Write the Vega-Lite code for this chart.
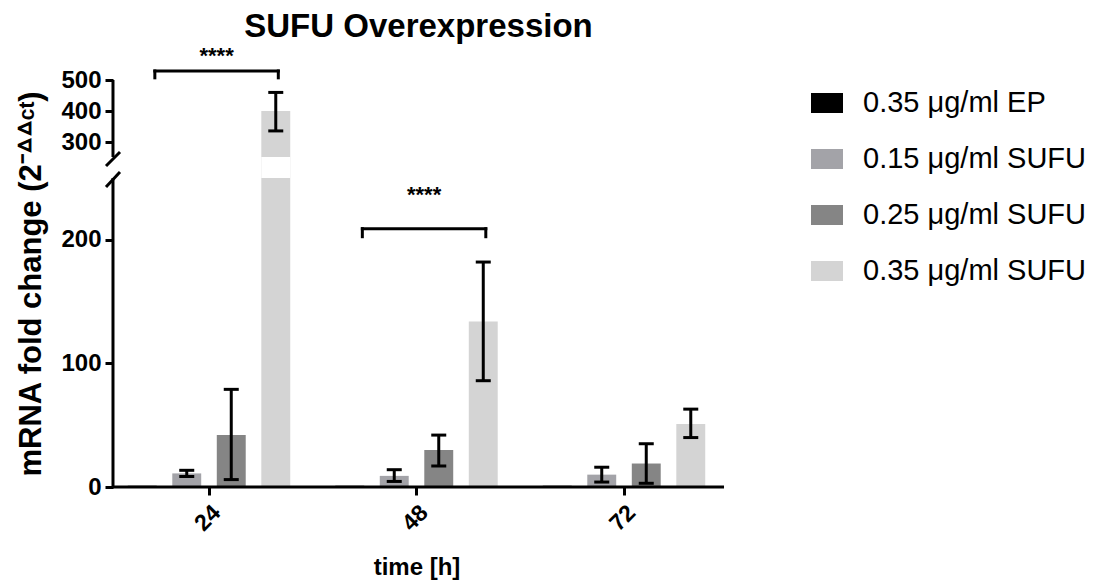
{
  "$schema": "https://vega.github.io/schema/vega-lite/v6.json",
  "width": 611,
  "height": 447,
  "autosize": {"type": "none"},
  "padding": {"left": 113, "top": 40, "right": 372, "bottom": 96},
  "title": {"text": "SUFU Overexpression", "fontSize": 33, "fontWeight": "bold", "color": "black", "anchor": "middle", "frame": "group", "offset": -4},
  "config": {"font": "Liberation Sans", "view": {"stroke": null}},
  "datasets": {
    "bars": [
      {"time": "24", "group": "0.35 μg/ml EP", "value": 1, "lo": null, "hi": null},
      {"time": "24", "group": "0.15 μg/ml SUFU", "value": 11, "lo": 8.5, "hi": 13.5},
      {"time": "24", "group": "0.25 μg/ml SUFU", "value": 42, "lo": 6, "hi": 79},
      {"time": "24", "group": "0.35 μg/ml SUFU", "value": 400, "lo": 336, "hi": 460},
      {"time": "48", "group": "0.35 μg/ml EP", "value": 1, "lo": null, "hi": null},
      {"time": "48", "group": "0.15 μg/ml SUFU", "value": 9, "lo": 4.5, "hi": 14},
      {"time": "48", "group": "0.25 μg/ml SUFU", "value": 30, "lo": 17, "hi": 42},
      {"time": "48", "group": "0.35 μg/ml SUFU", "value": 134, "lo": 86, "hi": 182},
      {"time": "72", "group": "0.35 μg/ml EP", "value": 1, "lo": null, "hi": null},
      {"time": "72", "group": "0.15 μg/ml SUFU", "value": 10, "lo": 4, "hi": 16},
      {"time": "72", "group": "0.25 μg/ml SUFU", "value": 19, "lo": 3, "hi": 35},
      {"time": "72", "group": "0.35 μg/ml SUFU", "value": 51, "lo": 40, "hi": 63}
    ],
    "brackets": [
      {"time": "24", "y": 529, "yEnd": 507, "ys": 577, "label": "****"},
      {"time": "48", "y": 209, "yEnd": 202.5, "ys": 236, "label": "****"}
    ],
    "axisSegments": [{"lo": 0, "hi": 250}, {"lo": 252, "hi": 500}],
    "breaks": [{"a": 242.7, "b": 250.57}, {"a": 251.14, "b": 268}]
  },
  "layer": [
    {
      "data": {"name": "bars"},
      "mark": {"type": "bar"},
      "encoding": {
        "x": {"field": "time", "type": "nominal",
          "scale": {"domain": ["24", "48", "72"], "range": [-7.75, 614.75], "paddingInner": 0, "paddingOuter": 0},
          "axis": {"title": "time [h]", "labelAngle": -45, "labelFontSize": 23, "labelFontWeight": "bold", "labelColor": "black", "labelPadding": 6,
            "titleFontSize": 24, "titleFontWeight": "bold", "titleColor": "black", "titlePadding": 20,
            "tickSize": 8, "tickWidth": 3, "tickColor": "black", "domain": false, "grid": false}},
        "xOffset": {"field": "group", "type": "nominal",
          "scale": {"domain": ["0.35 μg/ml EP", "0.15 μg/ml SUFU", "0.25 μg/ml SUFU", "0.35 μg/ml SUFU"], "paddingInner": 0.35, "paddingOuter": 0.506}},
        "y": {"field": "value", "type": "quantitative",
          "scale": {"domain": [0, 250, 252, 500], "range": [447, 138, 117, 40], "nice": false, "zero": false},
          "axis": {"title": "mRNA fold change (2⁻ᐞᐞᶜᵗ)", "values": [0, 100, 200, 300, 400, 500], "domain": false, "grid": false,
            "tickSize": 8, "tickWidth": 3, "tickColor": "black", "labelFontSize": 24, "labelFontWeight": "bold", "labelColor": "black",
            "labelPadding": 4, "labelOverlap": false, "titleFontSize": 31, "titleFontWeight": "bold", "titleColor": "black", "titlePadding": 13}},
        "color": {"field": "group", "type": "nominal",
          "scale": {"domain": ["0.35 μg/ml EP", "0.15 μg/ml SUFU", "0.25 μg/ml SUFU", "0.35 μg/ml SUFU"], "range": ["#000000", "#a3a3a8", "#858585", "#d4d4d4"]},
          "legend": {"title": null, "orient": "none", "legendX": 698, "legendY": 47, "labelFontSize": 29, "labelColor": "black", "labelLimit": 400,
            "symbolType": "M-1,-0.625L1,-0.625L1,0.625L-1,0.625Z", "symbolSize": 1024, "symbolStrokeWidth": 0, "symbolOpacity": 1,
            "rowPadding": 25, "labelOffset": 20, "padding": 0}}
      }
    },
    {
      "data": {"name": "bars"},
      "transform": [{"filter": "datum.value > 252"}],
      "mark": {"type": "bar", "color": "white"},
      "encoding": {
        "x": {"field": "time", "type": "nominal"},
        "xOffset": {"field": "group", "type": "nominal"},
        "y": {"datum": 250, "type": "quantitative"},
        "y2": {"datum": 252}
      }
    },
    {
      "data": {"name": "bars"},
      "transform": [{"filter": "datum.hi != null"}],
      "mark": {"type": "rule", "color": "black", "strokeWidth": 3},
      "encoding": {
        "x": {"field": "time", "type": "nominal"},
        "xOffset": {"field": "group", "type": "nominal"},
        "y": {"field": "lo", "type": "quantitative"},
        "y2": {"field": "hi"}
      }
    },
    {
      "data": {"name": "bars"},
      "transform": [{"filter": "datum.hi != null"}],
      "mark": {"type": "tick", "color": "black", "size": 15, "thickness": 3, "opacity": 1},
      "encoding": {
        "x": {"field": "time", "type": "nominal"},
        "xOffset": {"field": "group", "type": "nominal"},
        "y": {"field": "hi", "type": "quantitative"}
      }
    },
    {
      "data": {"name": "bars"},
      "transform": [{"filter": "datum.hi != null"}],
      "mark": {"type": "tick", "color": "black", "size": 15, "thickness": 3, "opacity": 1},
      "encoding": {
        "x": {"field": "time", "type": "nominal"},
        "xOffset": {"field": "group", "type": "nominal"},
        "y": {"field": "lo", "type": "quantitative"}
      }
    },
    {
      "data": {"name": "axisSegments"},
      "mark": {"type": "rule", "color": "black", "strokeWidth": 3},
      "encoding": {
        "x": {"datum": "24", "type": "nominal", "bandPosition": 0.0373},
        "y": {"field": "lo", "type": "quantitative"},
        "y2": {"field": "hi"}
      }
    },
    {
      "data": {"name": "axisSegments"},
      "transform": [{"filter": "datum.lo == 0"}],
      "mark": {"type": "rule", "color": "black", "strokeWidth": 3},
      "encoding": {
        "x": {"datum": "24", "type": "nominal", "bandPosition": 0.0373},
        "x2": {"datum": "72", "bandPosition": 0.982},
        "y": {"field": "lo", "type": "quantitative"}
      }
    },
    {
      "data": {"name": "breaks"},
      "mark": {"type": "rule", "color": "black", "strokeWidth": 3},
      "encoding": {
        "x": {"datum": "24", "type": "nominal", "bandPosition": 0.0036},
        "x2": {"datum": "24", "bandPosition": 0.071},
        "y": {"field": "a", "type": "quantitative"},
        "y2": {"field": "b"}
      }
    },
    {
      "data": {"name": "brackets"},
      "mark": {"type": "rule", "color": "black", "strokeWidth": 3, "strokeCap": "square"},
      "encoding": {
        "x": {"field": "time", "type": "nominal", "bandPosition": 0.239},
        "x2": {"field": "time", "bandPosition": 0.834},
        "y": {"field": "y", "type": "quantitative"}
      }
    },
    {
      "data": {"name": "brackets"},
      "mark": {"type": "rule", "color": "black", "strokeWidth": 3, "strokeCap": "square"},
      "encoding": {
        "x": {"field": "time", "type": "nominal", "bandPosition": 0.239},
        "y": {"field": "y", "type": "quantitative"},
        "y2": {"field": "yEnd"}
      }
    },
    {
      "data": {"name": "brackets"},
      "mark": {"type": "rule", "color": "black", "strokeWidth": 3, "strokeCap": "square"},
      "encoding": {
        "x": {"field": "time", "type": "nominal", "bandPosition": 0.834},
        "y": {"field": "y", "type": "quantitative"},
        "y2": {"field": "yEnd"}
      }
    },
    {
      "data": {"name": "brackets"},
      "mark": {"type": "text", "color": "black", "fontSize": 22, "fontWeight": "bold", "baseline": "middle", "align": "center"},
      "encoding": {
        "x": {"field": "time", "type": "nominal", "bandPosition": 0.5365},
        "y": {"field": "ys", "type": "quantitative"},
        "text": {"field": "label"}
      }
    }
  ]
}
